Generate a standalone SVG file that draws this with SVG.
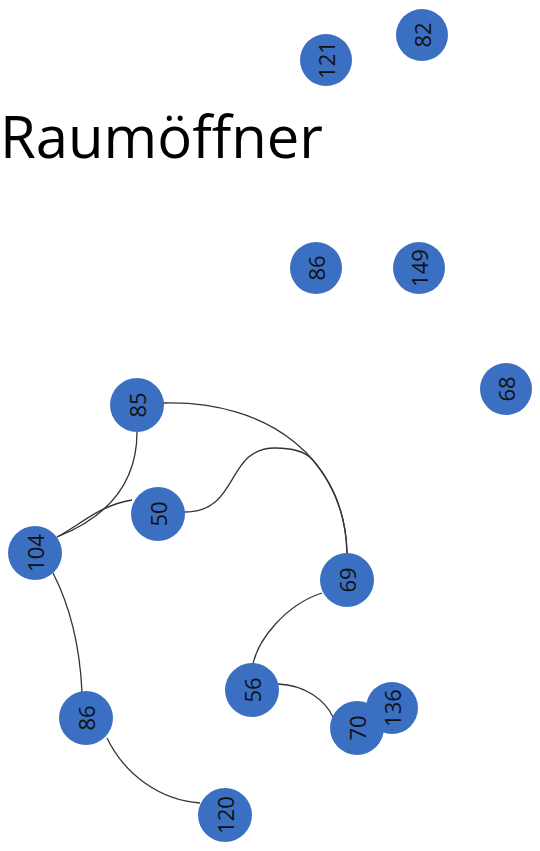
<svg xmlns="http://www.w3.org/2000/svg" width="540" height="851" viewBox="0 0 540 851">
<style>
.n circle{fill:#3b6fc1}
.n text{font-family:"Open Sans","Noto Sans",sans-serif;font-size:22px;fill:#111;text-anchor:middle;dominant-baseline:central}
.e path{fill:none;stroke:#333;stroke-width:1.3}
.t{font-family:"Open Sans","Noto Sans",sans-serif;font-size:58px;fill:#000}
</style>
<rect width="540" height="851" fill="#fff"/>
<text class="t" x="0" y="158">Raumöffner</text>
<g class="e">
<path d="M137,432 C137,490 100,520 57,537"/>
<path d="M57,537 C80,525 100,505 132,500"/>
<path d="M163,403 C270,400 345,460 347,553"/>
<path d="M185,512 C240,512 225,448 275,448 C292,448 305,452 312,459 C333.7,483.9 346.2,515.8 347,553"/>
<path d="M53,573 C72,610 80,650 82,692"/>
<path d="M107,738 C125,775 160,800 200,803"/>
<path d="M322,593 C285,605 258,640 253,664"/>
<path d="M278,684 C305,685 325,700 333,717"/>
</g>
<g id="n121" class="n"><circle cx="326" cy="60" r="26"/><text transform="translate(326,60) rotate(-90)">121</text></g>
<g id="n82" class="n"><circle cx="422" cy="35" r="26"/><text transform="translate(422,35) rotate(-90)">82</text></g>
<g id="n86a" class="n"><circle cx="316" cy="268" r="26"/><text transform="translate(316,268) rotate(-90)">86</text></g>
<g id="n149" class="n"><circle cx="419" cy="268" r="26"/><text transform="translate(419,268) rotate(-90)">149</text></g>
<g id="n68" class="n"><circle cx="506" cy="389" r="26"/><text transform="translate(506,389) rotate(-90)">68</text></g>
<g id="n85" class="n"><circle cx="137" cy="405" r="27"/><text transform="translate(137,405) rotate(-90)">85</text></g>
<g id="n50" class="n"><circle cx="158" cy="514" r="27"/><text transform="translate(158,514) rotate(-90)">50</text></g>
<g id="n104" class="n"><circle cx="35" cy="553" r="27"/><text transform="translate(35,553) rotate(-90)">104</text></g>
<g id="n69" class="n"><circle cx="347" cy="580" r="27"/><text transform="translate(347,580) rotate(-90)">69</text></g>
<g id="n56" class="n"><circle cx="252" cy="690" r="27"/><text transform="translate(252,690) rotate(-90)">56</text></g>
<g id="n136" class="n"><circle cx="392" cy="708" r="26"/><text transform="translate(392,708) rotate(-90)">136</text></g>
<g id="n70" class="n"><circle cx="357" cy="728" r="27"/><text transform="translate(357,728) rotate(-90)">70</text></g>
<g id="n86b" class="n"><circle cx="86" cy="718" r="27"/><text transform="translate(86,718) rotate(-90)">86</text></g>
<g id="n120" class="n"><circle cx="225" cy="815" r="27"/><text transform="translate(225,815) rotate(-90)">120</text></g>
</svg>
